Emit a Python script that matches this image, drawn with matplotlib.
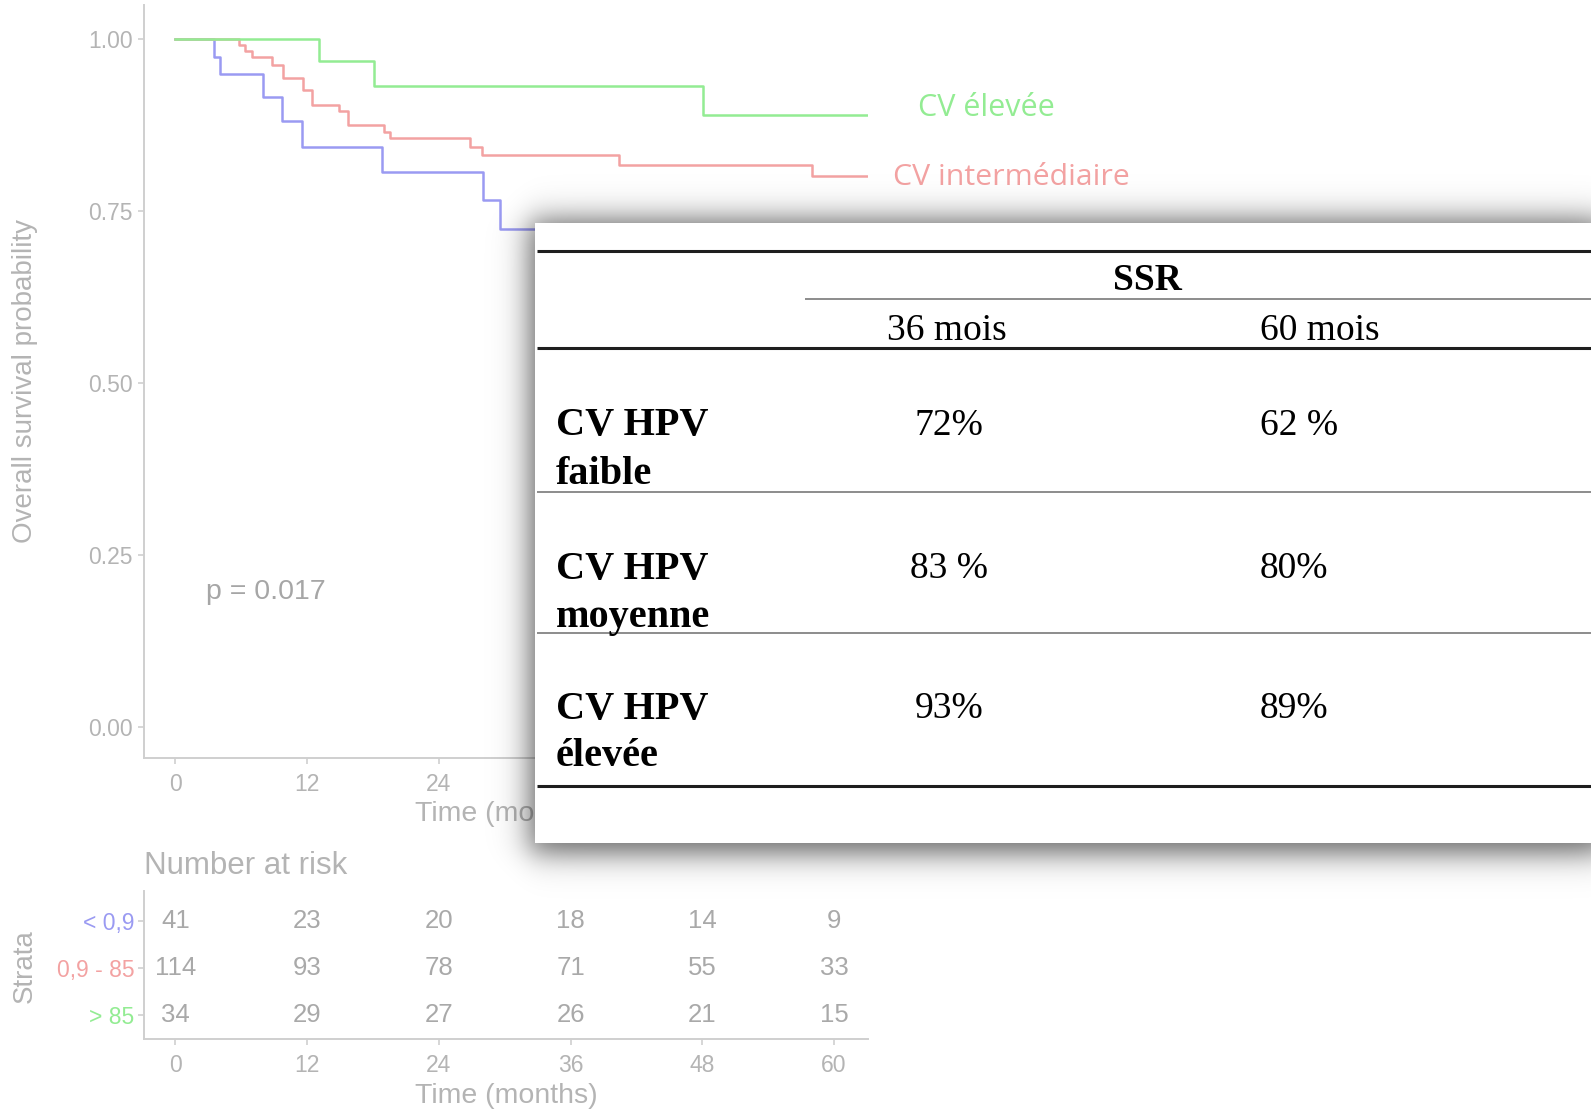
import numpy as np
import matplotlib.pyplot as plt

W, H = 1591, 1111

# survival curves (months, probability), step after each event
blue_t = [0, 3.5, 4.1, 8.0, 9.7, 11.5, 18.8, 28.0, 29.6, 40.0, 50.0, 63.1]
blue_s = [1.0, 0.974, 0.949, 0.916, 0.881, 0.843, 0.806, 0.765, 0.723, 0.675, 0.62, 0.62]
red_t = [0, 5.8, 6.3, 7.0, 8.8, 9.8, 11.6, 12.4, 14.9, 15.7, 19.0, 19.5,
         26.8, 27.9, 40.4, 58.0, 63.1]
red_s = [1.0, 0.991, 0.982, 0.973, 0.962, 0.943, 0.925, 0.904, 0.895, 0.874, 0.865,
         0.856, 0.843, 0.831, 0.817, 0.800, 0.800]
green_t = [0, 13.1, 18.1, 48.1, 63.1]
green_s = [1.0, 0.967, 0.932, 0.889, 0.889]

# number at risk
risk_times = [0, 12, 24, 36, 48, 60]
risk_low = [41, 23, 20, 18, 14, 9]
risk_mid = [114, 93, 78, 71, 55, 33]
risk_high = [34, 29, 27, 26, 21, 15]
strata = ['< 0,9', '0,9 - 85', '> 85']

# SSR summary table
ssr_cols = ['36 mois', '60 mois']
ssr_rows = ['CV HPV\nfaible', 'CV HPV\nmoyenne', 'CV HPV\nélevée']
ssr_36 = ['72%', '83 %', '93%']
ssr_60 = ['62 %', '80%', '89%']

BLUE = '#9a9af2'
RED = '#f3a2a2'
GREEN = '#93ec93'
GREY = '#b4b4b4'
AXCOL = '#cfcfcf'

plt.rcParams['font.family'] = ['Liberation Sans', 'DejaVu Sans']


def px_rect(left, top, right, bottom):
    return [left / W, 1 - bottom / H, (right - left) / W, (bottom - top) / H]


def fx(x):
    return x / W


def fy(y):
    return 1 - y / H


def style_axis(ax):
    for s in ['top', 'right']:
        ax.spines[s].set_visible(False)
    for s in ['left', 'bottom']:
        ax.spines[s].set_color(AXCOL)
        ax.spines[s].set_linewidth(1.4)
    ax.tick_params(colors=AXCOL, labelcolor=GREY, length=4, width=1.2,
                   labelsize=16.5)


fig = plt.figure(figsize=(W / 100, H / 100), dpi=100)

# --- survival plot
ax = fig.add_axes(px_rect(144, 5, 868, 758))
ax.step(blue_t, blue_s, where='post', color=BLUE, lw=1.8)
ax.step(red_t, red_s, where='post', color=RED, lw=1.8)
ax.step(green_t, green_s, where='post', color=GREEN, lw=1.8)
ax.set_xlim(-2.87, 63.1)
ax.set_ylim(-0.045, 1.049)
ax.set_xticks(risk_times)
ax.set_yticks([0, 0.25, 0.5, 0.75, 1.0])
ax.set_yticklabels(['0.00', '0.25', '0.50', '0.75', '1.00'])
style_axis(ax)
ax.tick_params(axis='x', pad=7)
ax.tick_params(axis='y', pad=4)
ax.text(2.8, 0.196, 'p = 0.017', fontsize=20.5, color='#a6a6a6', va='center')

fig.text(fx(25), fy(381), 'Overall survival probability', rotation=90,
         ha='center', va='center', fontsize=20, color=GREY)
fig.text(fx(506), fy(814), 'Time (months)', ha='center', va='center',
         fontsize=20.5, color=GREY)

fig.text(fx(918), fy(108), 'CV élevée', fontsize=22, color=GREEN,
         family='Open Sans', ha='left', va='center')
fig.text(fx(893), fy(177), 'CV intermédiaire', fontsize=21.8, color=RED,
         family='Open Sans', ha='left', va='center')

# --- number at risk table
rax = fig.add_axes(px_rect(144, 891, 868, 1039))
rax.set_xlim(-2.87, 63.1)
rax.set_ylim(0.49, 3.64)
rows = [risk_low, risk_mid, risk_high]
for i, counts in enumerate(rows):
    for t, n in zip(risk_times, counts):
        rax.text(t, 3 - i, str(n), ha='center', va='center', fontsize=18.5,
                 color='#a9a9a9')
rax.set_xticks(risk_times)
rax.set_yticks([3, 2, 1])
rax.set_yticklabels(strata)
style_axis(rax)
rax.tick_params(axis='x', pad=7)
rax.tick_params(axis='y', pad=3)
for lab, c in zip(rax.get_yticklabels(), [BLUE, RED, GREEN]):
    lab.set_color(c)
    lab.set_fontsize(16.5)

fig.text(fx(144), fy(866), 'Number at risk', fontsize=22.5, color=GREY,
         ha='left', va='center')
fig.text(fx(25), fy(966), 'Strata', rotation=90, ha='center', va='center',
         fontsize=20, color=GREY)
fig.text(fx(506), fy(1096), 'Time (months)', ha='center', va='center',
         fontsize=20.5, color=GREY)

# --- drop shadow behind the summary table
box_l, box_t, box_r, box_b = 535, 223, 1600, 843
xs = np.arange(W)[None, :]
ys = np.arange(H)[:, None]
k = 9.0
sx = 1 / (1 + np.exp(-(xs - (box_l - 6)) / k)) - 1 / (1 + np.exp(-(xs - (box_r + 6)) / k))
sy = 1 / (1 + np.exp(-(ys - (box_t - 4)) / k)) - 1 / (1 + np.exp(-(ys - (box_b + 10)) / k))
shadow = np.zeros((H, W, 4))
shadow[..., 3] = 0.6 * sx * sy
sax = fig.add_axes([0, 0, 1, 1], zorder=5)
sax.imshow(shadow, extent=(0, W, H, 0), aspect='auto', interpolation='bilinear')
sax.set_xlim(0, W)
sax.set_ylim(H, 0)
sax.axis('off')

# --- summary table
tax = fig.add_axes(px_rect(box_l, box_t, W, box_b), zorder=10)
tax.set_facecolor('white')
tax.set_xlim(box_l, W)
tax.set_ylim(box_b, box_t)
tax.set_xticks([])
tax.set_yticks([])
for s in tax.spines.values():
    s.set_visible(False)

serif = ['Liberation Serif', 'DejaVu Serif']
thick = dict(color='#1e1e1e', lw=2.2)
thin = dict(color='#8c8c8c', lw=1.4)
tax.hlines(251, 537, W, **thick)
tax.hlines(299, 805, W, **thin)
tax.hlines(348, 537, W, **thick)
tax.hlines(492, 537, W, **thin)
tax.hlines(633, 537, W, **thin)
tax.hlines(786, 537, W, **thick)

tax.text(1147, 280, 'SSR', family=serif, fontweight='bold', fontsize=27,
         ha='center', va='center')
tax.text(947, 331, ssr_cols[0], family=serif, fontsize=27, ha='center', va='center')
tax.text(1260, 331, ssr_cols[1], family=serif, fontsize=27, ha='left', va='center')

row_y = [426, 569, 709]
for y, name, v36, v60 in zip(row_y, ssr_rows, ssr_36, ssr_60):
    top, bottom = name.split('\n')
    tax.text(556, y, top, family=serif, fontweight='bold', fontsize=29,
             ha='left', va='center')
    tax.text(556, y + 48, bottom, family=serif, fontweight='bold', fontsize=29,
             ha='left', va='center')
    tax.text(949, y, v36, family=serif, fontsize=27, ha='center', va='center')
    tax.text(1260, y, v60, family=serif, fontsize=27, ha='left', va='center')

fig.savefig('out.png', dpi=100, facecolor='white')
